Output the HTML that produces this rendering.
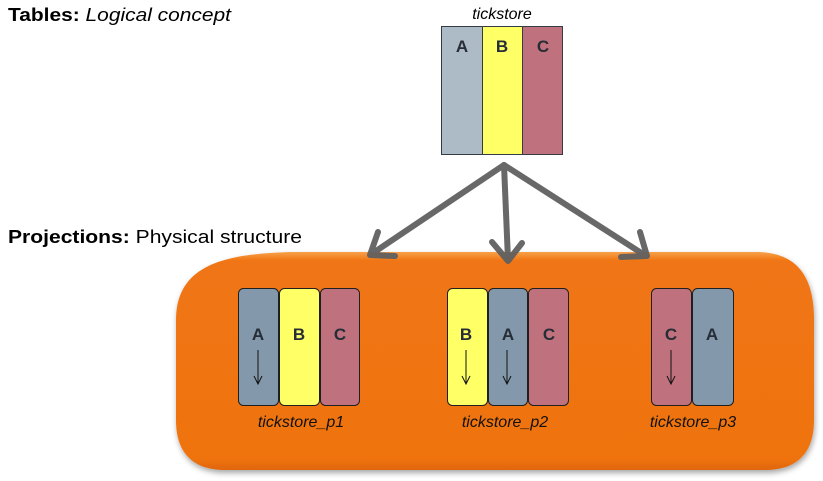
<!DOCTYPE html>
<html><head><meta charset="utf-8"><style>
html,body{margin:0;padding:0;background:#fff;width:823px;height:481px;overflow:hidden}
svg{display:block}
text{font-family:"Liberation Sans",sans-serif}
</style></head><body>
<svg width="823" height="481" viewBox="0 0 823 481" xmlns="http://www.w3.org/2000/svg">
<defs>
<linearGradient id="og" x1="0" y1="0" x2="0" y2="1">
<stop offset="0" stop-color="#f7a14a"/><stop offset="0.04" stop-color="#f07512"/><stop offset="0.95" stop-color="#ef7311"/><stop offset="1" stop-color="#e0660a"/>
</linearGradient>
<filter id="sh" x="-5%" y="-5%" width="110%" height="115%"><feDropShadow dx="1" dy="3" stdDeviation="3" flood-color="#000" flood-opacity="0.35"/></filter>
</defs>
<text x="8" y="21" font-size="18" textLength="223" lengthAdjust="spacingAndGlyphs"><tspan font-weight="bold">Tables:</tspan> <tspan font-style="italic">Logical concept</tspan></text>
<text x="8" y="243" font-size="18" textLength="294" lengthAdjust="spacingAndGlyphs"><tspan font-weight="bold">Projections:</tspan> Physical structure</text>

<path d="M176,320 C176,262 230,254 290,252 L760,252 C800,254 814,280 814,320 L814,420 C814,455 795,470 765,470 L225,470 C195,470 176,455 176,420 Z" fill="url(#og)" filter="url(#sh)"/>

<text x="502" y="19" font-size="16" font-style="italic" text-anchor="middle">tickstore</text>
<rect x="441.5" y="26.5" width="41" height="128" fill="#adbbc7" stroke="#333c45"/>
<rect x="482.5" y="26.5" width="40" height="128" fill="#ffff66" stroke="#333c45"/>
<rect x="522.5" y="26.5" width="40" height="128" fill="#bf727d" stroke="#333c45"/>
<g font-size="17" font-weight="bold" fill="#262d36" text-anchor="middle">
<text x="462" y="52">A</text><text x="502" y="52">B</text><text x="543" y="52">C</text>
</g>

<g stroke="#606060" stroke-width="6" fill="none" stroke-linecap="round" stroke-linejoin="round" opacity="0.95">
<line x1="504" y1="165" x2="373" y2="253"/>
<polyline points="378,232 370,255 395,256"/>
<line x1="504" y1="165" x2="508" y2="260"/>
<polyline points="492,242 508,261 522,243"/>
<line x1="504" y1="165" x2="643" y2="254"/>
<polyline points="640,232 647,256 621,257"/>
</g>

<g stroke="#1f1f1f" stroke-width="1">
<rect x="238.5" y="288.5" width="40" height="117" rx="5" fill="#8399ab"/>
<rect x="279.5" y="288.5" width="40" height="117" rx="5" fill="#ffff66"/>
<rect x="320.5" y="288.5" width="39" height="117" rx="5" fill="#bf727d"/>
<rect x="447.5" y="288.5" width="40" height="117" rx="5" fill="#ffff66"/>
<rect x="488.5" y="288.5" width="39" height="117" rx="5" fill="#8399ab"/>
<rect x="528.5" y="288.5" width="40" height="117" rx="5" fill="#bf727d"/>
<rect x="651.5" y="288.5" width="40" height="117" rx="5" fill="#bf727d"/>
<rect x="692.5" y="288.5" width="41" height="117" rx="5" fill="#8399ab"/>
</g>
<g font-size="17" font-weight="bold" fill="#262d36" text-anchor="middle">
<text x="258" y="340">A</text><text x="299" y="340">B</text><text x="340" y="340">C</text>
<text x="466" y="340">B</text><text x="508" y="340">A</text><text x="549" y="340">C</text>
<text x="671" y="340">C</text><text x="712" y="340">A</text>
</g>
<g stroke="#111" stroke-width="1" fill="none">
<line x1="258" y1="350" x2="258" y2="384"/><polyline points="254,376 258,384 262,376"/>
<line x1="466" y1="350" x2="466" y2="384"/><polyline points="462,376 466,384 470,376"/>
<line x1="507" y1="350" x2="507" y2="384"/><polyline points="503,376 507,384 511,376"/>
<line x1="671" y1="350" x2="671" y2="384"/><polyline points="667,376 671,384 675,376"/>
</g>
<g font-size="16" font-style="italic" fill="#111" text-anchor="middle">
<text x="301" y="427">tickstore_p1</text>
<text x="505" y="427">tickstore_p2</text>
<text x="693" y="427">tickstore_p3</text>
</g>
</svg>
</body></html>
